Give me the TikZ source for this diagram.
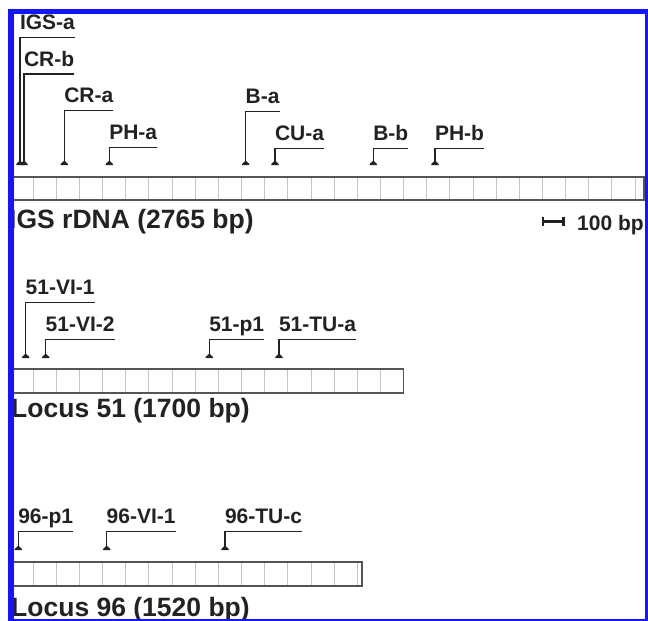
\documentclass[tikz,border=0pt]{standalone}
\usepackage{fontspec}
\setmainfont{Liberation Sans}
\usetikzlibrary{arrows.meta}
\definecolor{Frame}{HTML}{1414FF}
\definecolor{Ink}{HTML}{222222}
\definecolor{Edge}{HTML}{555555}
\definecolor{Cell}{HTML}{C4C4C4}

\begin{document}
\begin{tikzpicture}[x=1pt,y=-1pt,
  bar/.style={draw=Edge,line width=1.4pt},
  cell/.style={draw=Cell,line width=.9pt},
  primer/.style={{Triangle[reversed,width=9pt,length=4.5pt,round]}-,draw=Ink,line width=1.1pt},
  lbl/.style={font=\fontsize{21}{24}\selectfont\bfseries,text=Ink,inner sep=0pt,
    outer sep=0pt,outer ysep=8pt,text depth=0pt,anchor=south west},
  title/.style={font=\fontsize{26.5}{30}\selectfont\bfseries,text=Ink,inner sep=0pt,anchor=base west}]
\useasboundingbox (0,0) rectangle (648,621);
\fill[white] (0,0) rectangle (648,621);
\foreach \k in {1,...,27} \draw[cell] (10+\k*23.15,177) -- ++(0,23);
\draw[bar] (10,177) rectangle (644,200);
\foreach \k in {1,...,16} \draw[cell] (10+\k*23.15,369) -- ++(0,24);
\draw[bar] (10,369) rectangle (403.6,393);
\foreach \k in {1,...,15} \draw[cell] (10+\k*23.15,562) -- ++(0,24);
\draw[bar] (10,562) rectangle (361.9,586);
\node[title] (igs) at (9,228) {IGS rDNA (2765 bp)};
\node[title] (loc51) at (11,417) {Locus 51 (1700 bp)};
\node[title] (loc96) at (11,616) {Locus 96 (1520 bp)};
\node[lbl] (IGSa) at (20,37.7) {IGS-a};\coordinate (mIGSa) at (20,165);
\node[lbl] (CRb) at (24,74) {CR-b};\coordinate (mCRb) at (24,165);
\node[lbl] (CRa) at (64.3,110.7) {CR-a};\coordinate (mCRa) at (64.3,165);
\node[lbl] (PHa) at (109.3,147.7) {PH-a};\coordinate (mPHa) at (109.3,165);
\node[lbl] (Ba) at (245.7,111.7) {B-a};\coordinate (mBa) at (245.7,165);
\node[lbl] (CUa) at (275,148.3) {CU-a};\coordinate (mCUa) at (275,165);
\node[lbl] (Bb) at (373.3,148.3) {B-b};\coordinate (mBb) at (373.3,165);
\node[lbl] (PHb) at (435,148.3) {PH-b};\coordinate (mPHb) at (435,165);
\draw[primer](mIGSa)|-(IGSa.south east);\draw[primer](mCRb)|-(CRb.south east);
\draw[primer](mCRa)|-(CRa.south east);\draw[primer](mPHa)|-(PHa.south east);
\draw[primer](mBa)|-(Ba.south east);\draw[primer](mCUa)|-(CUa.south east);
\draw[primer](mBb)|-(Bb.south east);\draw[primer](mPHb)|-(PHb.south east);
\node[lbl] (VIone) at (25.7,302.7) {51-VI-1};\coordinate (mVIone) at (25.7,358);
\node[lbl] (VItwo) at (45.7,339.3) {51-VI-2};\coordinate (mVItwo) at (45.7,358);
\node[lbl] (pone) at (209.3,339.3) {51-p1};\coordinate (mpone) at (209.3,358);
\node[lbl] (TUa) at (279,339.3) {51-TU-a};\coordinate (mTUa) at (279,358);
\draw[primer](mVIone)|-(VIone.south east);\draw[primer](mVItwo)|-(VItwo.south east);
\draw[primer](mpone)|-(pone.south east);\draw[primer](mTUa)|-(TUa.south east);
\node[lbl] (psix) at (18.3,531.7) {96-p1};\coordinate (mpsix) at (18.3,550);
\node[lbl] (VIsix) at (106.7,531.7) {96-VI-1};\coordinate (mVIsix) at (106.7,550);
\node[lbl] (TUc) at (225,531.7) {96-TU-c};\coordinate (mTUc) at (225,550);
\draw[primer](mpsix)|-(psix.south east);\draw[primer](mVIsix)|-(VIsix.south east);
\draw[primer](mTUc)|-(TUc.south east);
\coordinate (sbl) at (541.5,221.5);\coordinate (sbr) at (564.7,221.5);
\draw[{Bar[width=9pt]}-{Bar[width=9pt]},draw=Ink,line width=2.4pt](sbl)--(sbr);
\node[title,font=\fontsize{21}{24}\selectfont\bfseries] (scale) at (577,230) {100 bp};
\fill[Frame] (8,9) rectangle (13.5,621);\fill[Frame] (8,9) rectangle (647.5,13.5);
\fill[Frame] (644.5,9) rectangle (647.5,621);\fill[Frame] (8,619) rectangle (647.5,621);
\end{tikzpicture}
\end{document}
